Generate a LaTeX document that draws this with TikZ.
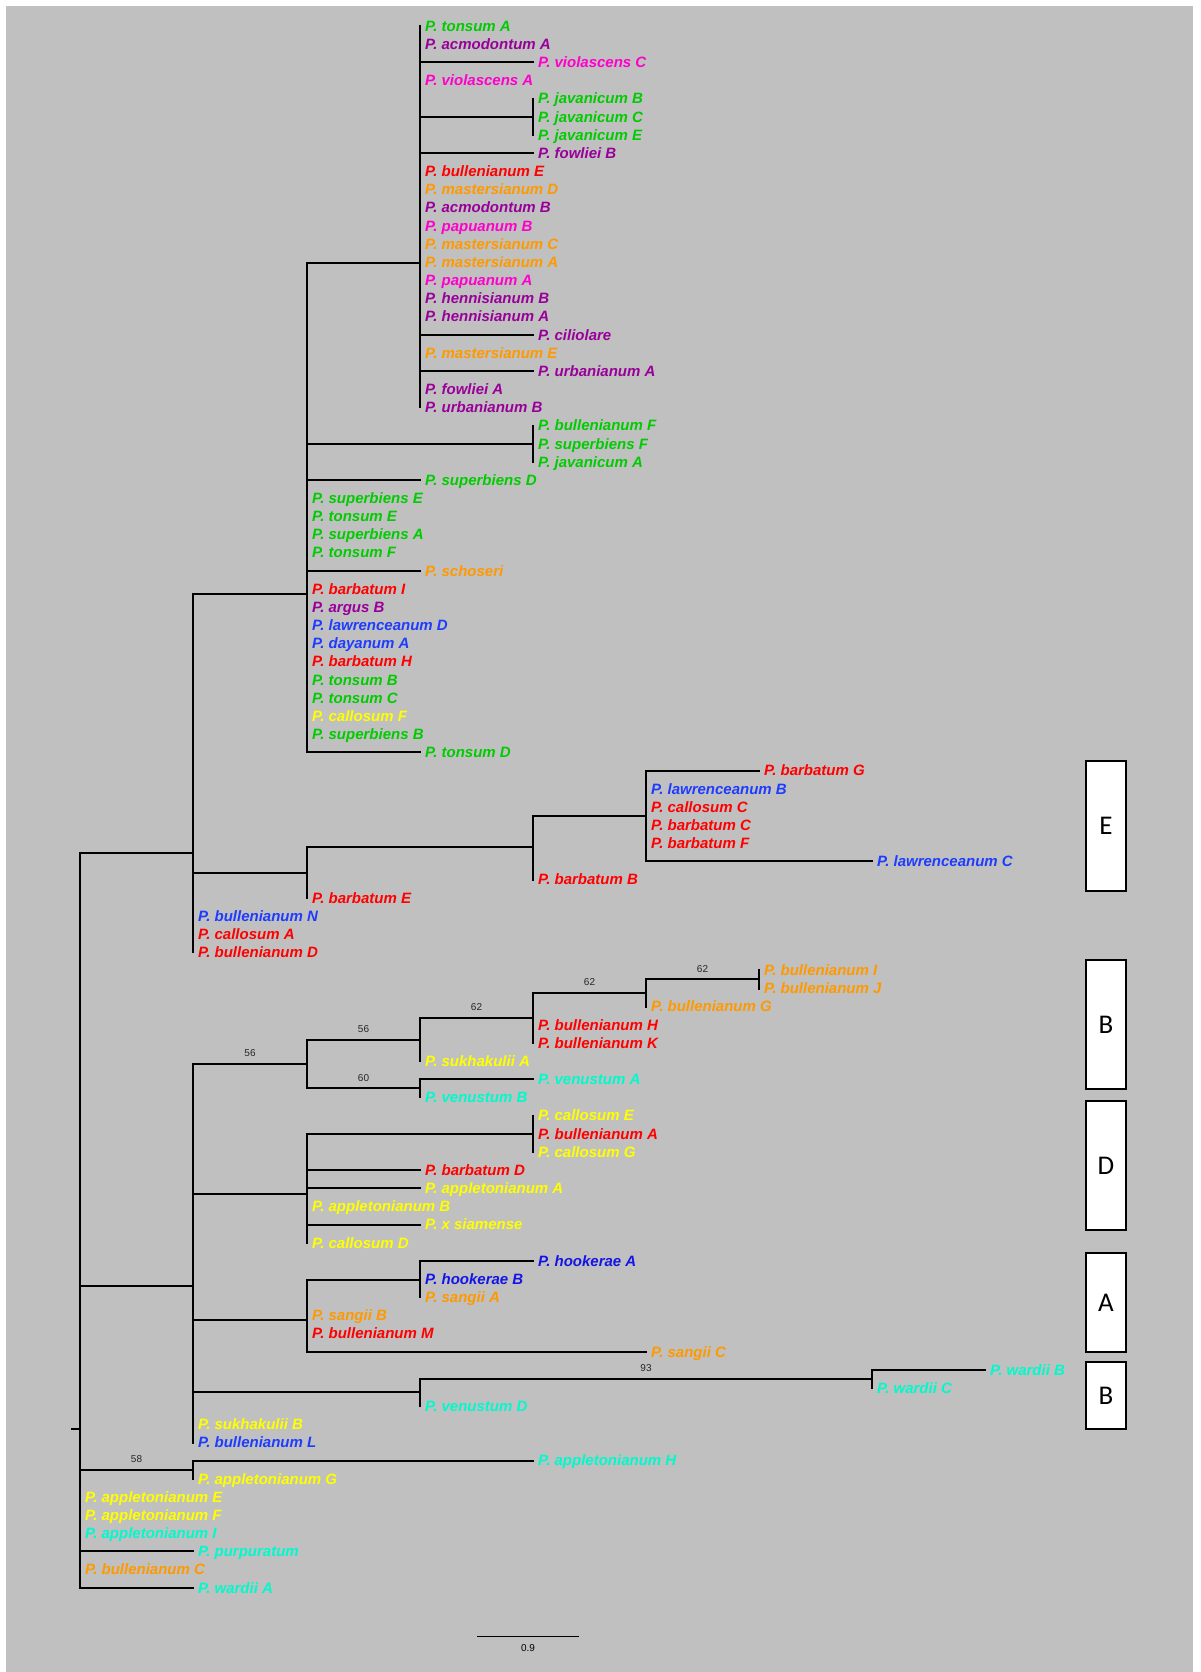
\documentclass[tikz,border=0pt]{standalone}
\usepackage{fontspec}
\setmainfont{Liberation Sans}
\newfontfamily\boxfont{Carlito}
\usepackage{tikz}
\usetikzlibrary{positioning}

\definecolor{grn}{RGB}{0,204,0}
\definecolor{prp}{RGB}{153,0,153}
\definecolor{pnk}{RGB}{255,0,204}
\definecolor{rd}{RGB}{255,0,0}
\definecolor{org}{RGB}{255,153,0}
\definecolor{blu}{RGB}{30,60,255}
\definecolor{dblu}{RGB}{20,20,230}
\definecolor{ylw}{RGB}{255,255,0}
\definecolor{cyn}{RGB}{0,250,204}
\definecolor{bggray}{RGB}{192,192,192}

\begin{document}
\begin{tikzpicture}[
  x=1pt, y=-1pt,
  branch/.style={line width=2pt, black, line cap=rect},
  taxon/.style={anchor=west, inner xsep=5pt, inner ysep=0pt, text height=10.7pt,
                text depth=0pt, text=#1, font=\fontsize{15}{15}\selectfont\bfseries\itshape},
  bootval/.style={midway, anchor=south, yshift=6pt, inner sep=0pt, text=black!85,
                  font=\fontsize{10}{10}\selectfont},
  cladebox/.style={draw, fill=white, line width=1.2pt, minimum width=40pt, inner sep=0pt,
                   font=\boxfont\fontsize{27}{27}\selectfont},
]
  \useasboundingbox (0,0) rectangle (1200,1672);
  \fill[bggray] (6,6) rectangle (1193,1672);

  % internal nodes
  \coordinate (r0) at (80,1429);
  \coordinate (rootstub) at (72,1429);
  \coordinate (c1) at (193,853);
  \coordinate (c2) at (307,594);
  \coordinate (c3) at (420,263);
  \coordinate (jav) at (533,116.8);
  \coordinate (bulf) at (533,443.7);
  \coordinate (e1) at (307,872.5);
  \coordinate (e2) at (533,847);
  \coordinate (e3) at (646,815.8);
  \coordinate (l1) at (193,1286);
  \coordinate (l2) at (307,1064);
  \coordinate (l3) at (420,1040);
  \coordinate (l4) at (533,1018);
  \coordinate (l5) at (646,992.8);
  \coordinate (l6) at (759,979.4);
  \coordinate (v1) at (420,1088.4);
  \coordinate (d1) at (307,1194);
  \coordinate (d2) at (533,1133.8);
  \coordinate (a1) at (307,1320);
  \coordinate (a2) at (420,1280);
  \coordinate (w1) at (420,1392);
  \coordinate (w2) at (872,1379);
  \coordinate (g1) at (193,1470);

  % taxa
  \node[taxon=grn] (t0) at (420,26.0) {P. tonsum A};
  \node[taxon=prp] (t1) at (420,44.2) {P. acmodontum A};
  \node[taxon=pnk] (t2) at (533,62.3) {P. violascens C};
  \node[taxon=pnk] (t3) at (420,80.5) {P. violascens A};
  \node[taxon=grn] (t4) at (533,98.6) {P. javanicum B};
  \node[taxon=grn] (t5) at (533,116.8) {P. javanicum C};
  \node[taxon=grn] (t6) at (533,135.0) {P. javanicum E};
  \node[taxon=prp] (t7) at (533,153.1) {P. fowliei B};
  \node[taxon=rd] (t8) at (420,171.3) {P. bullenianum E};
  \node[taxon=org] (t9) at (420,189.4) {P. mastersianum D};
  \node[taxon=prp] (t10) at (420,207.6) {P. acmodontum B};
  \node[taxon=pnk] (t11) at (420,225.8) {P. papuanum B};
  \node[taxon=org] (t12) at (420,243.9) {P. mastersianum C};
  \node[taxon=org] (t13) at (420,262.1) {P. mastersianum A};
  \node[taxon=pnk] (t14) at (420,280.2) {P. papuanum A};
  \node[taxon=prp] (t15) at (420,298.4) {P. hennisianum B};
  \node[taxon=prp] (t16) at (420,316.6) {P. hennisianum A};
  \node[taxon=prp] (t17) at (533,334.7) {P. ciliolare};
  \node[taxon=org] (t18) at (420,352.9) {P. mastersianum E};
  \node[taxon=prp] (t19) at (533,371.0) {P. urbanianum A};
  \node[taxon=prp] (t20) at (420,389.2) {P. fowliei A};
  \node[taxon=prp] (t21) at (420,407.4) {P. urbanianum B};
  \node[taxon=grn] (t22) at (533,425.5) {P. bullenianum F};
  \node[taxon=grn] (t23) at (533,443.7) {P. superbiens F};
  \node[taxon=grn] (t24) at (533,461.8) {P. javanicum A};
  \node[taxon=grn] (t25) at (420,480.0) {P. superbiens D};
  \node[taxon=grn] (t26) at (307,498.2) {P. superbiens E};
  \node[taxon=grn] (t27) at (307,516.3) {P. tonsum E};
  \node[taxon=grn] (t28) at (307,534.5) {P. superbiens A};
  \node[taxon=grn] (t29) at (307,552.6) {P. tonsum F};
  \node[taxon=org] (t30) at (420,570.8) {P. schoseri};
  \node[taxon=rd] (t31) at (307,589.0) {P. barbatum I};
  \node[taxon=prp] (t32) at (307,607.1) {P. argus B};
  \node[taxon=blu] (t33) at (307,625.3) {P. lawrenceanum D};
  \node[taxon=blu] (t34) at (307,643.4) {P. dayanum A};
  \node[taxon=rd] (t35) at (307,661.6) {P. barbatum H};
  \node[taxon=grn] (t36) at (307,679.8) {P. tonsum B};
  \node[taxon=grn] (t37) at (307,697.9) {P. tonsum C};
  \node[taxon=ylw] (t38) at (307,716.1) {P. callosum F};
  \node[taxon=grn] (t39) at (307,734.2) {P. superbiens B};
  \node[taxon=grn] (t40) at (420,752.4) {P. tonsum D};
  \node[taxon=rd] (t41) at (759,770.6) {P. barbatum G};
  \node[taxon=blu] (t42) at (646,788.7) {P. lawrenceanum B};
  \node[taxon=rd] (t43) at (646,806.9) {P. callosum C};
  \node[taxon=rd] (t44) at (646,825.0) {P. barbatum C};
  \node[taxon=rd] (t45) at (646,843.2) {P. barbatum F};
  \node[taxon=blu] (t46) at (872,861.4) {P. lawrenceanum C};
  \node[taxon=rd] (t47) at (533,879.5) {P. barbatum B};
  \node[taxon=rd] (t48) at (307,897.7) {P. barbatum E};
  \node[taxon=blu] (t49) at (193,915.8) {P. bullenianum N};
  \node[taxon=rd] (t50) at (193,934.0) {P. callosum A};
  \node[taxon=rd] (t51) at (193,952.2) {P. bullenianum D};
  \node[taxon=org] (t52) at (759,970.3) {P. bullenianum I};
  \node[taxon=org] (t53) at (759,988.5) {P. bullenianum J};
  \node[taxon=org] (t54) at (646,1006.6) {P. bullenianum G};
  \node[taxon=rd] (t55) at (533,1024.8) {P. bullenianum H};
  \node[taxon=rd] (t56) at (533,1043.0) {P. bullenianum K};
  \node[taxon=ylw] (t57) at (420,1061.1) {P. sukhakulii A};
  \node[taxon=cyn] (t58) at (533,1079.3) {P. venustum A};
  \node[taxon=cyn] (t59) at (420,1097.4) {P. venustum B};
  \node[taxon=ylw] (t60) at (533,1115.6) {P. callosum E};
  \node[taxon=rd] (t61) at (533,1133.8) {P. bullenianum A};
  \node[taxon=ylw] (t62) at (533,1151.9) {P. callosum G};
  \node[taxon=rd] (t63) at (420,1170.1) {P. barbatum D};
  \node[taxon=ylw] (t64) at (420,1188.2) {P. appletonianum A};
  \node[taxon=ylw] (t65) at (307,1206.4) {P. appletonianum B};
  \node[taxon=ylw] (t66) at (420,1224.6) {P. x siamense};
  \node[taxon=ylw] (t67) at (307,1242.7) {P. callosum D};
  \node[taxon=dblu] (t68) at (533,1260.9) {P. hookerae A};
  \node[taxon=dblu] (t69) at (420,1279.0) {P. hookerae B};
  \node[taxon=org] (t70) at (420,1297.2) {P. sangii A};
  \node[taxon=org] (t71) at (307,1315.4) {P. sangii B};
  \node[taxon=rd] (t72) at (307,1333.5) {P. bullenianum M};
  \node[taxon=org] (t73) at (646,1351.7) {P. sangii C};
  \node[taxon=cyn] (t74) at (985,1369.8) {P. wardii B};
  \node[taxon=cyn] (t75) at (872,1388.0) {P. wardii C};
  \node[taxon=cyn] (t76) at (420,1406.2) {P. venustum D};
  \node[taxon=ylw] (t77) at (193,1424.3) {P. sukhakulii B};
  \node[taxon=blu] (t78) at (193,1442.5) {P. bullenianum L};
  \node[taxon=cyn] (t79) at (533,1460.6) {P. appletonianum H};
  \node[taxon=ylw] (t80) at (193,1478.8) {P. appletonianum G};
  \node[taxon=ylw] (t81) at (80,1497.0) {P. appletonianum E};
  \node[taxon=ylw] (t82) at (80,1515.1) {P. appletonianum F};
  \node[taxon=cyn] (t83) at (80,1533.3) {P. appletonianum I};
  \node[taxon=cyn] (t84) at (193,1551.4) {P. purpuratum};
  \node[taxon=org] (t85) at (80,1569.6) {P. bullenianum C};
  \node[taxon=cyn] (t86) at (193,1587.8) {P. wardii A};

  % root
  \draw[branch] (rootstub) -- (r0);
  \draw[branch] (r0 |- c1) -- (r0 |- t86);

  % upper clade
  \draw[branch] (r0 |- c1) -- (c1);
  \draw[branch] (c1 |- c2) -- (c1 |- t51);
  \draw[branch] (c1 |- c2) -- (c2);
  \draw[branch] (c2 |- c3) -- (c2 |- t40);
  \draw[branch] (c2 |- c3) -- (c3);
  \draw[branch] (c3 |- t0) -- (c3 |- t21);
  \draw[branch] (c3 |- t2) -- (t2.west);
  \draw[branch] (c3 |- jav) -- (jav);
  \draw[branch] (jav |- t4) -- (jav |- t6);
  \draw[branch] (c3 |- t7) -- (t7.west);
  \draw[branch] (c3 |- t17) -- (t17.west);
  \draw[branch] (c3 |- t19) -- (t19.west);
  \draw[branch] (c2 |- bulf) -- (bulf);
  \draw[branch] (bulf |- t22) -- (bulf |- t24);
  \draw[branch] (c2 |- t25) -- (t25.west);
  \draw[branch] (c2 |- t30) -- (t30.west);
  \draw[branch] (c2 |- t40) -- (t40.west);

  % clade E
  \draw[branch] (c1 |- e1) -- (e1);
  \draw[branch] (e1 |- e2) -- (e1 |- t48);
  \draw[branch] (e1 |- e2) -- (e2);
  \draw[branch] (e2 |- e3) -- (e2 |- t47);
  \draw[branch] (e2 |- e3) -- (e3);
  \draw[branch] (e3 |- t41) -- (e3 |- t46);
  \draw[branch] (e3 |- t41) -- (t41.west);
  \draw[branch] (e3 |- t46) -- (t46.west);

  % lower clade
  \draw[branch] (r0 |- l1) -- (l1);
  \draw[branch] (l1 |- l2) -- (l1 |- t78);
  \draw[branch] (l1 |- l2) -- (l2) node[bootval] {56};
  \draw[branch] (l2 |- l3) -- (l2 |- v1);
  \draw[branch] (l2 |- l3) -- (l3) node[bootval] {56};
  \draw[branch] (l2 |- v1) -- (v1) node[bootval] {60};
  \draw[branch] (l3 |- l4) -- (l3 |- t57);
  \draw[branch] (l3 |- l4) -- (l4) node[bootval] {62};
  \draw[branch] (l4 |- l5) -- (l4 |- t56);
  \draw[branch] (l4 |- l5) -- (l5) node[bootval] {62};
  \draw[branch] (l5 |- l6) -- (l5 |- t54);
  \draw[branch] (l5 |- l6) -- (l6) node[bootval] {62};
  \draw[branch] (l6 |- t52) -- (l6 |- t53);
  \draw[branch] (v1 |- t58) -- (v1 |- t59);
  \draw[branch] (v1 |- t58) -- (t58.west);

  % clade D
  \draw[branch] (l1 |- d1) -- (d1);
  \draw[branch] (d1 |- d2) -- (d1 |- t67);
  \draw[branch] (d1 |- d2) -- (d2);
  \draw[branch] (d2 |- t60) -- (d2 |- t62);
  \draw[branch] (d1 |- t63) -- (t63.west);
  \draw[branch] (d1 |- t64) -- (t64.west);
  \draw[branch] (d1 |- t66) -- (t66.west);

  % clade A
  \draw[branch] (l1 |- a1) -- (a1);
  \draw[branch] (a1 |- a2) -- (a1 |- t73);
  \draw[branch] (a1 |- a2) -- (a2);
  \draw[branch] (a2 |- t68) -- (a2 |- t70);
  \draw[branch] (a2 |- t68) -- (t68.west);
  \draw[branch] (a1 |- t73) -- (t73.west);

  % wardii
  \draw[branch] (l1 |- w1) -- (w1);
  \draw[branch] (w1 |- w2) -- (w1 |- t76);
  \draw[branch] (w1 |- w2) -- (w2) node[bootval] {93};
  \draw[branch] (w2 |- t74) -- (w2 |- t75);
  \draw[branch] (w2 |- t74) -- (t74.west);

  % appletonianum
  \draw[branch] (r0 |- g1) -- (g1) node[bootval] {58};
  \draw[branch] (g1 |- t79) -- (g1 |- t80);
  \draw[branch] (g1 |- t79) -- (t79.west);
  \draw[branch] (r0 |- t84) -- (t84.west);
  \draw[branch] (r0 |- t86) -- (t86.west);

  % clade boxes
  \node[cladebox, minimum height=130pt] (boxe) at (1106,826) {E};
  \node[cladebox, minimum height=129pt] (boxb) at (1106,1024.5) {B};
  \node[cladebox, minimum height=129pt] (boxd) at (1106,1165.5) {D};
  \node[cladebox, minimum height=99pt] (boxa) at (1106,1302.5) {A};
  \node[cladebox, minimum height=67pt] (boxbb) at (1106,1395.5) {B};

  % scale bar
  \coordinate (sbl) at (477,1636);
  \coordinate (sbr) at (579,1636);
  \draw[line width=1pt] (sbl) -- (sbr)
    node[midway, anchor=north, yshift=-8pt, inner sep=0pt, font=\fontsize{10}{10}\selectfont] {0.9};
\end{tikzpicture}
\end{document}
